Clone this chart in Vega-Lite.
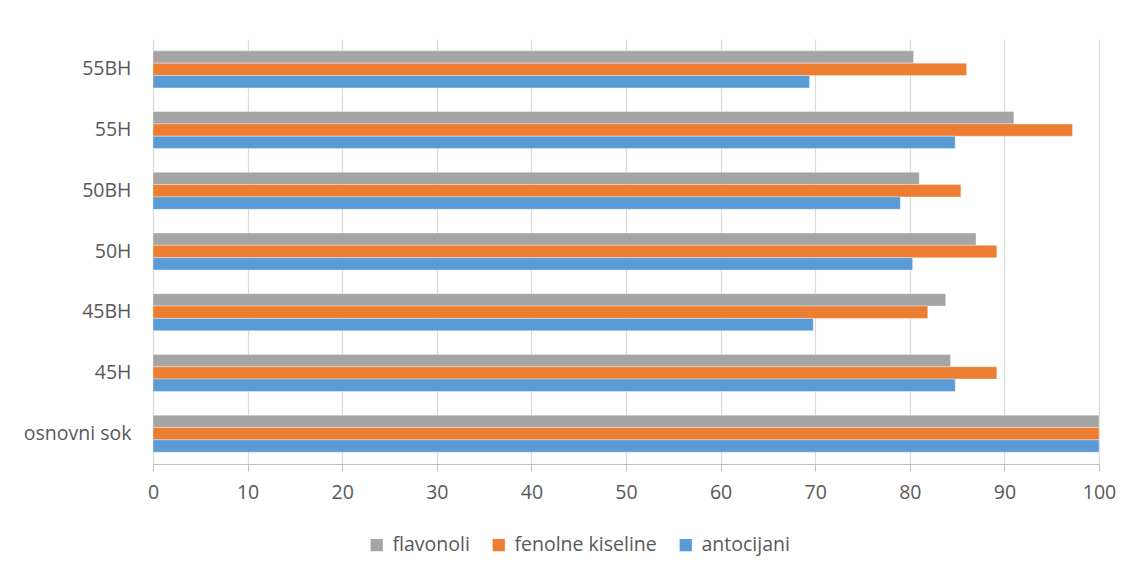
{
  "$schema": "https://vega.github.io/schema/vega-lite/v6.json",
  "description": "Grouped horizontal bars: flavonoli, fenolne kiseline, antocijani per sample",
  "autosize": {"type": "none"},
  "padding": {"left": 153, "top": 39, "right": 32, "bottom": 110},
  "width": 946,
  "height": 425,
  "background": "white",
  "data": {
    "values": [
      {"uzorak": "osnovni sok", "grupa": "flavonoli", "vrijednost": 100},
      {"uzorak": "osnovni sok", "grupa": "fenolne kiseline", "vrijednost": 100},
      {"uzorak": "osnovni sok", "grupa": "antocijani", "vrijednost": 100},
      {"uzorak": "45H", "grupa": "flavonoli", "vrijednost": 84.3},
      {"uzorak": "45H", "grupa": "fenolne kiseline", "vrijednost": 89.2},
      {"uzorak": "45H", "grupa": "antocijani", "vrijednost": 84.8},
      {"uzorak": "45BH", "grupa": "flavonoli", "vrijednost": 83.8},
      {"uzorak": "45BH", "grupa": "fenolne kiseline", "vrijednost": 81.9},
      {"uzorak": "45BH", "grupa": "antocijani", "vrijednost": 69.8},
      {"uzorak": "50H", "grupa": "flavonoli", "vrijednost": 87.0},
      {"uzorak": "50H", "grupa": "fenolne kiseline", "vrijednost": 89.2},
      {"uzorak": "50H", "grupa": "antocijani", "vrijednost": 80.3},
      {"uzorak": "50BH", "grupa": "flavonoli", "vrijednost": 81.0},
      {"uzorak": "50BH", "grupa": "fenolne kiseline", "vrijednost": 85.4},
      {"uzorak": "50BH", "grupa": "antocijani", "vrijednost": 79.0},
      {"uzorak": "55H", "grupa": "flavonoli", "vrijednost": 91.0},
      {"uzorak": "55H", "grupa": "fenolne kiseline", "vrijednost": 97.2},
      {"uzorak": "55H", "grupa": "antocijani", "vrijednost": 84.8},
      {"uzorak": "55BH", "grupa": "flavonoli", "vrijednost": 80.4},
      {"uzorak": "55BH", "grupa": "fenolne kiseline", "vrijednost": 86.0},
      {"uzorak": "55BH", "grupa": "antocijani", "vrijednost": 69.4}
    ]
  },
  "mark": {"type": "bar", "stroke": "white", "strokeWidth": 0.6, "strokeOpacity": 0.6},
  "encoding": {
    "y": {
      "field": "uzorak",
      "type": "nominal",
      "sort": ["55BH", "55H", "50BH", "50H", "45BH", "45H", "osnovni sok"],
      "scale": {"paddingInner": 0.39, "paddingOuter": 0.195},
      "axis": {
        "title": null,
        "ticks": false,
        "domain": false,
        "labelPadding": 22,
        "labelFontSize": 19.5,
        "labelFont": "Open Sans",
        "labelColor": "#595959"
      }
    },
    "yOffset": {
      "field": "grupa",
      "type": "nominal",
      "sort": ["flavonoli", "fenolne kiseline", "antocijani"],
      "scale": {"paddingInner": 0, "paddingOuter": 0}
    },
    "x": {
      "field": "vrijednost",
      "type": "quantitative",
      "scale": {"domain": [0, 100], "nice": false},
      "axis": {
        "title": null,
        "values": [0, 10, 20, 30, 40, 50, 60, 70, 80, 90, 100],
        "labelFlush": false,
        "gridColor": "#d9d9d9",
        "gridWidth": 1.2,
        "domainColor": "#bfbfbf",
        "domainWidth": 1.2,
        "tickColor": "#bfbfbf",
        "tickSize": 7,
        "labelPadding": 12,
        "labelFontSize": 19.5,
        "labelFont": "Open Sans",
        "labelColor": "#595959"
      }
    },
    "color": {
      "field": "grupa",
      "type": "nominal",
      "scale": {
        "domain": ["flavonoli", "fenolne kiseline", "antocijani"],
        "range": ["#a5a5a5", "#ed7d31", "#5b9bd5"]
      },
      "legend": {
        "title": null,
        "orient": "none",
        "direction": "horizontal",
        "legendX": 214,
        "legendY": 496,
        "symbolType": "square",
        "symbolSize": 150,
        "symbolStrokeWidth": 0,
        "labelFontSize": 19.5,
        "labelFont": "Open Sans",
        "labelColor": "#595959",
        "labelOffset": 6,
        "columnPadding": 19
      }
    }
  },
  "config": {
    "view": {"stroke": null}
  }
}
